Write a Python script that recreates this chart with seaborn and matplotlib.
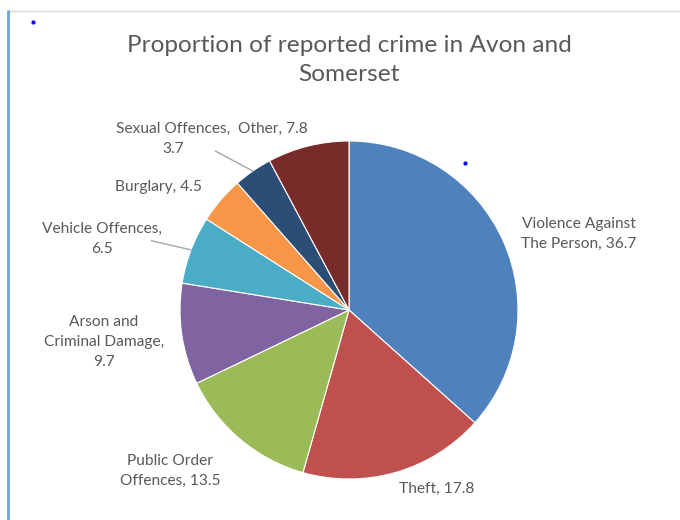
"""
plot.py - proportion of reported crime in Avon and Somerset (pie chart).
"""

import matplotlib
matplotlib.use("Agg")
import matplotlib.pyplot as plt
from matplotlib.lines import Line2D
import numpy as np
import seaborn as sns

# ── Data ──────────────────────────────────────────────────────────────────────
CATEGORIES = ["Violence Against The Person", "Theft", "Public Order Offences",
              "Arson and Criminal Damage", "Vehicle Offences", "Burglary",
              "Sexual Offences", "Other"]
VALUES = [36.7, 17.8, 13.5, 9.7, 6.5, 4.5, 3.7, 7.8]
LABEL_TEXT = ["Violence Against\nThe Person, 36.7", "Theft, 17.8",
              "Public Order\nOffences, 13.5", "Arson and\nCriminal Damage,\n9.7",
              "Vehicle Offences,\n6.5", "Burglary, 4.5",
              "Sexual Offences,\n3.7", "Other, 7.8"]

# ── Style ─────────────────────────────────────────────────────────────────────
COLORS = ["#4F81BD", "#C0504D", "#9BBB59", "#8064A2",
          "#4BACC6", "#F79646", "#2C4D75", "#772C2A"]
TEXT_C = "#595959"
# label centres in pie-radius units (layout only)
LABEL_POS = [(1.36, 0.45), (0.52, -1.06), (-1.06, -0.95), (-1.45, -0.19),
             (-1.46, 0.42), (-1.13, 0.73), (-1.04, 1.01), (-0.45, 1.07)]
# leader lines start points (label side), None = no leader
LEADER_START = [None, None, None, None, (-1.17, 0.41), None, (-0.79, 0.94), None]

sns.set_theme(style="white")
plt.rcParams["font.family"] = ["Lato", "DejaVu Sans"]

W, H = 680, 520
CX, CY, R = 349, 310, 169   # pie centre / radius in pixels

fig = plt.figure(figsize=(W / 100, H / 100), dpi=100)
ax = fig.add_axes([0, 0, 1, 1])

wedges, _ = ax.pie(VALUES, colors=COLORS, startangle=90, counterclock=False,
                   wedgeprops=dict(edgecolor="white", linewidth=0.8))
ax.set_xlim(-CX / R, (W - CX) / R)
ax.set_ylim(-(H - CY) / R, CY / R)
ax.set_aspect("equal")
ax.axis("off")

for w, txt, pos, lead in zip(wedges, LABEL_TEXT, LABEL_POS, LEADER_START):
    ax.text(pos[0], pos[1], txt, ha="center", va="center", fontsize=11.2,
            color=TEXT_C, linespacing=1.55)
    if lead is not None:
        mid = np.deg2rad((w.theta1 + w.theta2) / 2)
        ax.plot([lead[0], np.cos(mid)], [lead[1], np.sin(mid)],
                color="#A6A6A6", linewidth=1)

fig.text(CX / W, 1 - 60 / H, "Proportion of reported crime in Avon and\nSomerset",
         ha="center", va="center", fontsize=17.6, color=TEXT_C, linespacing=1.45)

# chart frame edges seen in the screenshot
fig.add_artist(Line2D([8 / W, 1], [1 - 11 / H] * 2, color="#D9D9D9", linewidth=1))
fig.add_artist(Line2D([8 / W] * 2, [0, 1 - 11 / H], color="#6FA3DC", linewidth=2))
fig.add_artist(Line2D([33 / W], [1 - 22 / H], marker="o", markersize=2,
                      color="#0000FF", linestyle="none"))
fig.add_artist(Line2D([465 / W], [1 - 163 / H], marker="o", markersize=2,
                      color="#0000FF", linestyle="none"))

fig.savefig("out.png", dpi=100)
plt.close()
